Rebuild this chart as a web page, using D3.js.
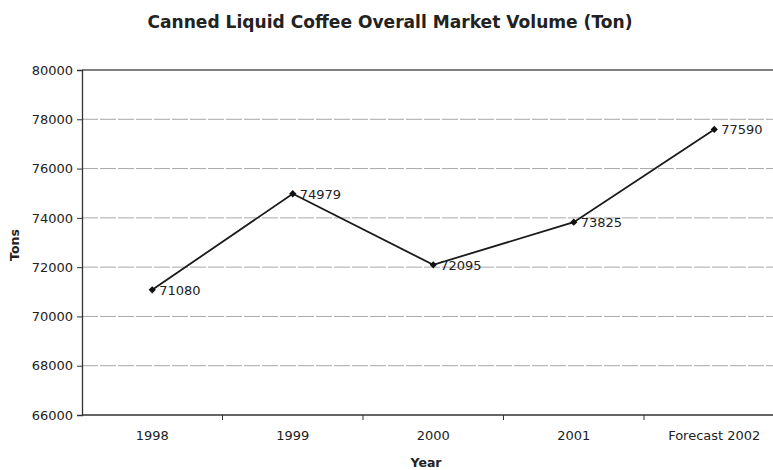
<!DOCTYPE html>
<html>
<head>
<meta charset="utf-8">
<script src="https://cdn.jsdelivr.net/npm/d3@7"></script>
<style>
  html, body { margin: 0; padding: 0; background: #fff; }
  svg { display: block; }
  text { font-family: "DejaVu Sans", Verdana, sans-serif; fill: #222; }
</style>
</head>
<body>
<script>
// Canned liquid coffee market volume by year
const years = ["1998", "1999", "2000", "2001", "Forecast 2002"];
const volumes = [71080, 74979, 72095, 73825, 77590];
const yTicks = [66000, 68000, 70000, 72000, 74000, 76000, 78000, 80000];

const W = 773, H = 470;
const plotLeft = 82, plotTop = 70, plotBottom = 415, bandW = 140.5;

const svg = d3.select("body").append("svg").attr("width", W).attr("height", H);

const x = d3.scaleBand().domain(years).range([plotLeft, plotLeft + bandW * years.length]).paddingInner(0).paddingOuter(0);
const y = d3.scaleLinear().domain([66000, 80000]).range([plotBottom, plotTop]);

// horizontal gridlines
svg.append("g").selectAll("line").data(yTicks.slice(1, -1)).join("line")
  .attr("x1", plotLeft).attr("x2", W)
  .attr("y1", d => y(d)).attr("y2", d => y(d))
  .attr("stroke", "#a8a8a8").attr("stroke-width", 1)
  .attr("stroke-dasharray", "16,2");

// top border of the plot area
svg.append("line").attr("x1", plotLeft).attr("x2", W).attr("y1", y(80000)).attr("y2", y(80000))
  .attr("stroke", "#555").attr("stroke-width", 1.3);

// y axis
const yAxis = svg.append("g").attr("transform", `translate(${plotLeft},0)`)
  .call(d3.axisLeft(y).tickValues(yTicks).tickFormat(d3.format("d")).tickSize(5).tickPadding(4));
yAxis.select(".domain").attr("stroke", "#333").attr("stroke-width", 1.3);
yAxis.selectAll(".tick line").attr("stroke", "#333");
yAxis.selectAll("text").style("font-size", "13px").attr("fill", "#222");

// x axis
const xAxis = svg.append("g").attr("transform", `translate(0,${plotBottom})`)
  .call(d3.axisBottom(x).tickSize(0).tickPadding(16));
xAxis.select(".domain").remove();
svg.append("line").attr("x1", plotLeft).attr("x2", W).attr("y1", plotBottom).attr("y2", plotBottom)
  .attr("stroke", "#333").attr("stroke-width", 1.3);
xAxis.selectAll("text").style("font-size", "13px").attr("fill", "#222");
// tick marks between categories
svg.append("g").selectAll("line").data(years.slice(1)).join("line")
  .attr("x1", d => x(d)).attr("x2", d => x(d))
  .attr("y1", plotBottom).attr("y2", plotBottom + 5)
  .attr("stroke", "#333");

// series line
const cx = d => x(d) + x.bandwidth() / 2;
const pts = years.map((yr, i) => [cx(yr), y(volumes[i])]);
svg.append("path").attr("d", d3.line()(pts))
  .attr("fill", "none").attr("stroke", "#1a1a1a").attr("stroke-width", 1.8);

// diamond markers
svg.append("g").selectAll("path").data(pts).join("path")
  .attr("transform", d => `translate(${d[0]},${d[1]})`)
  .attr("d", d3.symbol(d3.symbolDiamond2, 34)())
  .attr("fill", "#111");

// value labels
svg.append("g").selectAll("text").data(volumes).join("text")
  .attr("x", (d, i) => pts[i][0] + 7)
  .attr("y", (d, i) => pts[i][1] + 5)
  .style("font-size", "13px")
  .text(d => d);

// title and axis titles
svg.append("text").attr("x", 390).attr("y", 28).attr("text-anchor", "middle")
  .style("font-size", "17px").style("font-weight", "bold")
  .attr("textLength", 485).attr("lengthAdjust", "spacingAndGlyphs")
  .text("Canned Liquid Coffee Overall Market Volume (Ton)");
svg.append("text").attr("x", 426).attr("y", 467).attr("text-anchor", "middle")
  .style("font-size", "12.5px").style("font-weight", "bold").text("Year");
svg.append("text").attr("transform", "translate(19,245) rotate(-90)").attr("text-anchor", "middle")
  .style("font-size", "12.5px").style("font-weight", "bold").text("Tons");
</script>
</body>
</html>
